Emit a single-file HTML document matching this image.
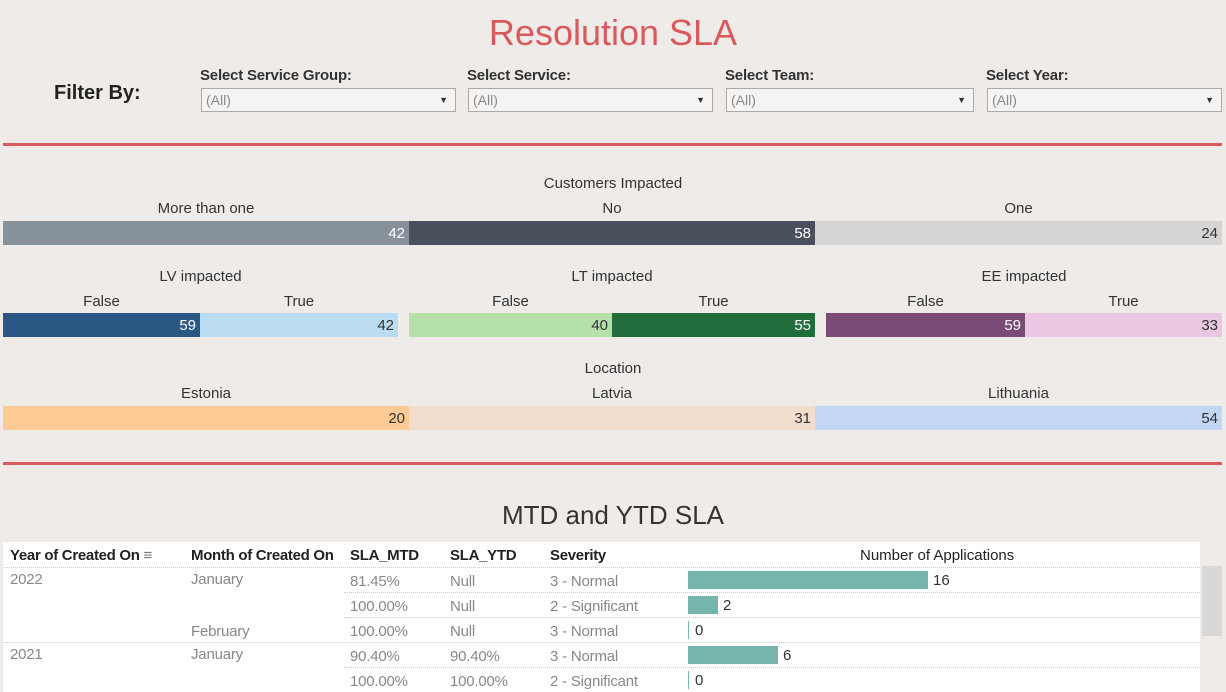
<!DOCTYPE html>
<html><head><style>
body{margin:0;width:1226px;height:692px;background:#efebe8;font-family:"Liberation Sans",sans-serif;position:relative;overflow:hidden}
.a{position:absolute;white-space:nowrap}
.b{position:absolute;height:24px;box-sizing:border-box;text-align:right;padding-right:4px;font-size:15px;line-height:25px}
.lab{position:absolute;font-size:15px;color:#333;text-align:center}
.sel{position:absolute;height:24px;top:88px;border:1px solid #aaa;background:#f6f4f2;box-sizing:border-box;font-size:14px;color:#888;line-height:23px;padding-left:4px}
.sel:after{content:"▼";position:absolute;right:7px;font-size:9px;color:#333}
.sl{position:absolute;top:67px;font-size:15px;font-weight:bold;color:#333;letter-spacing:-0.2px}
.line{position:absolute;left:3px;width:1219px;height:3px;background:#d9595c}
.t{position:absolute;font-size:15px;color:#888;letter-spacing:-0.2px}
.h{position:absolute;font-size:15px;font-weight:bold;color:#222;top:547px;letter-spacing:-0.3px}
.dl{position:absolute;border-top:1px dotted #ccc;height:0}
</style></head><body>
<div class="a" style="left:0;width:1226px;text-align:center;top:12px;font-size:36px;color:#d9595c">Resolution SLA</div>
<div class="a" style="left:54px;top:82px;font-size:20px;font-weight:bold;color:#222">Filter By:</div>
<div class="sl" style="left:200px">Select Service Group:</div>
<div class="sl" style="left:467px">Select Service:</div>
<div class="sl" style="left:725px">Select Team:</div>
<div class="sl" style="left:986px">Select Year:</div>
<div class="sel" style="left:201px;width:255px">(All)</div>
<div class="sel" style="left:468px;width:245px">(All)</div>
<div class="sel" style="left:726px;width:248px">(All)</div>
<div class="sel" style="left:987px;width:235px">(All)</div>
<div class="line" style="top:143px"></div>
<div class="line" style="top:462px"></div>

<div class="lab" style="left:0;width:1226px;top:175px">Customers Impacted</div>
<div class="lab" style="left:3px;width:406px;top:200px">More than one</div>
<div class="lab" style="left:409px;width:406px;top:200px">No</div>
<div class="lab" style="left:815px;width:407px;top:200px">One</div>
<div class="b" style="top:221px;left:3px;width:406px;background:#86919a;color:#fff">42</div>
<div class="b" style="top:221px;left:409px;width:406px;background:#4a4f5c;color:#fff">58</div>
<div class="b" style="top:221px;left:815px;width:407px;background:#d4d4d4;color:#333">24</div>

<div class="lab" style="left:3px;width:395px;top:268px">LV impacted</div>
<div class="lab" style="left:409px;width:406px;top:268px">LT impacted</div>
<div class="lab" style="left:826px;width:396px;top:268px">EE impacted</div>
<div class="lab" style="left:3px;width:197px;top:293px">False</div>
<div class="lab" style="left:200px;width:198px;top:293px">True</div>
<div class="lab" style="left:409px;width:203px;top:293px">False</div>
<div class="lab" style="left:612px;width:203px;top:293px">True</div>
<div class="lab" style="left:826px;width:199px;top:293px">False</div>
<div class="lab" style="left:1025px;width:197px;top:293px">True</div>
<div class="b" style="top:313px;left:3px;width:197px;background:#2b5784;color:#fff">59</div>
<div class="b" style="top:313px;left:200px;width:198px;background:#b9dcf0;color:#333">42</div>
<div class="b" style="top:313px;left:409px;width:203px;background:#b5e0a9;color:#333">40</div>
<div class="b" style="top:313px;left:612px;width:203px;background:#216d3b;color:#fff">55</div>
<div class="b" style="top:313px;left:826px;width:199px;background:#7a4b77;color:#fff">59</div>
<div class="b" style="top:313px;left:1025px;width:197px;background:#eac6e0;color:#333">33</div>

<div class="lab" style="left:0;width:1226px;top:360px">Location</div>
<div class="lab" style="left:3px;width:406px;top:385px">Estonia</div>
<div class="lab" style="left:409px;width:406px;top:385px">Latvia</div>
<div class="lab" style="left:815px;width:407px;top:385px">Lithuania</div>
<div class="b" style="top:406px;left:3px;width:406px;background:#ffca94;color:#333">20</div>
<div class="b" style="top:406px;left:409px;width:406px;background:#f2dccc;color:#333">31</div>
<div class="b" style="top:406px;left:815px;width:407px;background:#c4d7f2;color:#333">54</div>

<div class="a" style="left:0;width:1226px;text-align:center;top:500px;font-size:26px;color:#333">MTD and YTD SLA</div>
<div class="a" style="left:3px;top:542px;width:1197px;height:150px;background:#fff"></div>
<div class="a" style="left:1202px;top:566px;width:20px;height:70px;background:#d8d8d8"></div>
<div class="h" style="left:10px">Year of Created On <span style="font-weight:normal;color:#777">≡</span></div>
<div class="h" style="left:191px">Month of Created On</div>
<div class="h" style="left:350px">SLA_MTD</div>
<div class="h" style="left:450px">SLA_YTD</div>
<div class="h" style="left:550px">Severity</div>
<div class="a" style="left:860px;top:547px;font-size:15px;color:#222">Number of Applications</div>
<div class="dl" style="left:3px;width:1197px;top:567px"></div>
<div class="dl" style="left:344px;width:856px;top:592px"></div>
<div class="dl" style="left:344px;width:856px;top:617px"></div>
<div class="dl" style="left:3px;width:1197px;top:642px"></div>
<div class="dl" style="left:344px;width:856px;top:667px"></div>
<div class="t" style="left:10px;top:571px">2022</div>
<div class="t" style="left:191px;top:571px">January</div>
<div class="t" style="left:350px;top:573px">81.45%</div><div class="t" style="left:450px;top:573px">Null</div><div class="t" style="left:550px;top:573px">3 - Normal</div>
<div class="t" style="left:350px;top:598px">100.00%</div><div class="t" style="left:450px;top:598px">Null</div><div class="t" style="left:550px;top:598px">2 - Significant</div>
<div class="t" style="left:191px;top:623px">February</div>
<div class="t" style="left:350px;top:623px">100.00%</div><div class="t" style="left:450px;top:623px">Null</div><div class="t" style="left:550px;top:623px">3 - Normal</div>
<div class="t" style="left:10px;top:646px">2021</div>
<div class="t" style="left:191px;top:646px">January</div>
<div class="t" style="left:350px;top:648px">90.40%</div><div class="t" style="left:450px;top:648px">90.40%</div><div class="t" style="left:550px;top:648px">3 - Normal</div>
<div class="t" style="left:350px;top:673px">100.00%</div><div class="t" style="left:450px;top:673px">100.00%</div><div class="t" style="left:550px;top:673px">2 - Significant</div>
<div class="a" style="left:688px;top:571px;width:240px;height:18px;background:#75b5ad"></div><div class="a" style="left:933px;top:572px;font-size:15px;color:#333">16</div>
<div class="a" style="left:688px;top:596px;width:30px;height:18px;background:#75b5ad"></div><div class="a" style="left:723px;top:597px;font-size:15px;color:#333">2</div>
<div class="a" style="left:688px;top:621px;width:1px;height:18px;background:#75b5ad"></div><div class="a" style="left:695px;top:622px;font-size:15px;color:#333">0</div>
<div class="a" style="left:688px;top:646px;width:90px;height:18px;background:#75b5ad"></div><div class="a" style="left:783px;top:647px;font-size:15px;color:#333">6</div>
<div class="a" style="left:688px;top:671px;width:1px;height:18px;background:#75b5ad"></div><div class="a" style="left:695px;top:672px;font-size:15px;color:#333">0</div>
</body></html>
